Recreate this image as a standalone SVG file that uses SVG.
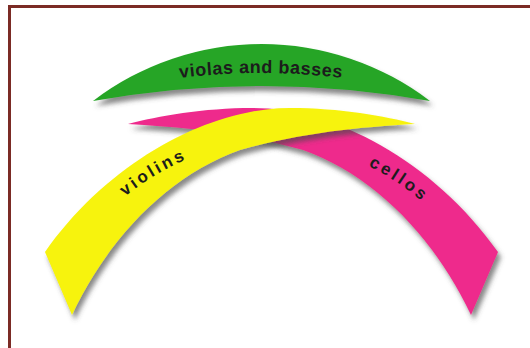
<svg xmlns="http://www.w3.org/2000/svg" xmlns:xlink="http://www.w3.org/1999/xlink" width="530" height="348" viewBox="0 0 530 348">
  <defs>
    <style>
      .lbl { font-family: "Liberation Sans", Arial, sans-serif; font-weight: bold; fill: #1c1c1c; }
      .frame { fill: #7b2b25; }
    </style>
    <filter id="sh" x="-10%" y="-10%" width="130%" height="140%">
      <feDropShadow dx="3" dy="5" stdDeviation="2.5" flood-color="#4a4a4a" flood-opacity="0.65"/>
    </filter>
    <path id="band" d="M45,252 C110,160 210,108 290,108 C340,108 385,116 415,124 C360,127 300,133 240,150 C170,175 110,235 72,315 Z"/>
    <path id="tp-violas" d="M100,93.5 A642,642 0 0 1 422,93.5"/>
    <path id="tp-violins" d="M58.7,277 A262,262 0 0 1 290,138"/>
    <path id="tp-cellos" d="M262.1,139.2 A261,261 0 0 1 489.5,289.7"/>
  </defs>

  <rect width="530" height="348" fill="#ffffff"/>

  <g id="frame">
    <rect class="frame" x="8" y="5" width="522" height="3"/>
    <rect class="frame" x="8" y="5" width="3" height="343"/>
  </g>

  <g id="node-violas">
    <path d="M93,101 A277.5,277.5 0 0 1 430,101 A954,954 0 0 0 93,101 Z" fill="#26a526" filter="url(#sh)"/>
    <text class="lbl" font-size="18" letter-spacing="0.5"><textPath xlink:href="#tp-violas" href="#tp-violas" startOffset="50%" text-anchor="middle">violas and basses</textPath></text>
  </g>

  <g id="node-cellos">
    <g filter="url(#sh)">
      <use xlink:href="#band" href="#band" transform="matrix(-1 0 0 1 543 0)" fill="#ee2a8c"/>
    </g>
    <text class="lbl" font-size="17" letter-spacing="3"><textPath xlink:href="#tp-cellos" href="#tp-cellos" startOffset="50%" text-anchor="middle">cellos</textPath></text>
  </g>

  <g id="node-violins">
    <g filter="url(#sh)">
      <use xlink:href="#band" href="#band" fill="#f7f30c"/>
    </g>
    <text class="lbl" font-size="17" letter-spacing="2.8"><textPath xlink:href="#tp-violins" href="#tp-violins" startOffset="50%" text-anchor="middle">violins</textPath></text>
  </g>

  <g id="connectors"/>
</svg>
